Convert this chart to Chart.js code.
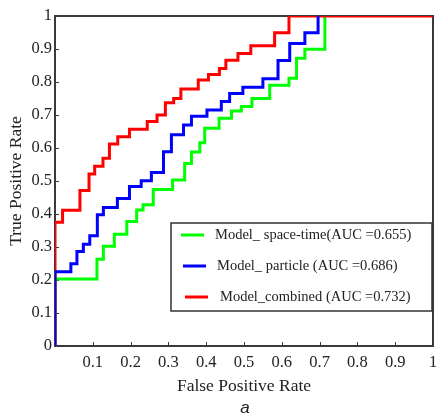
<!DOCTYPE html>
<html><head><meta charset="utf-8">
<script src="https://cdn.jsdelivr.net/npm/chart.js@4/dist/chart.umd.min.js"></script>
<style>html,body{margin:0;padding:0;background:#fff;}#wrap{position:relative;width:438px;height:417px;}</style>
</head><body><div id="wrap"><canvas id="c" width="438" height="417"></canvas></div>
<script>
// ---- data ----
const seriesLabels = ["Model_ space-time(AUC =0.655)", "Model_ particle (AUC =0.686)", "Model_combined (AUC =0.732)"];
const seriesColors = ["#00ff00", "#0000ff", "#ff0000"];

const greenFPR = [0, 0, 0.111, 0.128, 0.157, 0.190, 0.216, 0.233, 0.260, 0.311, 0.343, 0.361, 0.383, 0.396, 0.434, 0.467, 0.493, 0.521, 0.568, 0.619, 0.639, 0.661, 0.714];
const greenTPR = [0, 0.203, 0.263, 0.302, 0.339, 0.377, 0.412, 0.428, 0.474, 0.503, 0.553, 0.588, 0.616, 0.660, 0.690, 0.712, 0.726, 0.750, 0.790, 0.811, 0.872, 0.899, 1.0];

const blueFPR = [0, 0, 0.042, 0.058, 0.075, 0.092, 0.112, 0.128, 0.165, 0.197, 0.228, 0.255, 0.287, 0.308, 0.340, 0.361, 0.402, 0.440, 0.462, 0.497, 0.550, 0.590, 0.621, 0.661, 0.696];
const blueTPR = [0, 0.225, 0.249, 0.286, 0.308, 0.334, 0.398, 0.420, 0.447, 0.483, 0.501, 0.526, 0.589, 0.640, 0.670, 0.696, 0.715, 0.741, 0.765, 0.784, 0.810, 0.865, 0.917, 0.949, 1.0];

const redFPR = [0, 0, 0.020, 0.066, 0.090, 0.105, 0.127, 0.144, 0.166, 0.197, 0.244, 0.270, 0.292, 0.314, 0.333, 0.379, 0.406, 0.435, 0.452, 0.484, 0.518, 0.581, 0.619, 1.0];
const redTPR = [0, 0.375, 0.411, 0.471, 0.521, 0.545, 0.569, 0.612, 0.634, 0.657, 0.680, 0.700, 0.737, 0.750, 0.779, 0.806, 0.823, 0.841, 0.866, 0.886, 0.910, 0.949, 1.0, 1.0];

const xTickValues = [0.1, 0.2, 0.3, 0.4, 0.5, 0.6, 0.7, 0.8, 0.9, 1];
const xTickLabels = ["0.1", "0.2", "0.3", "0.4", "0.5", "0.6", "0.7", "0.8", "0.9", "1"];
const yTickValues = [0, 0.1, 0.2, 0.3, 0.4, 0.5, 0.6, 0.7, 0.8, 0.9, 1];
const yTickLabels = ["0", "0.1", "0.2", "0.3", "0.4", "0.5", "0.6", "0.7", "0.8", "0.9", "1"];
const xTitle = "False Positive Rate";
const yTitle = "True Positive Rate";
const panelLabel = "a";

// ---- chart ----
const SERIF = "'Liberation Serif', 'Times New Roman', serif";
const AXIS = "#3a3a3a";
function pts(xs, ys) { return xs.map((x, i) => ({ x: x, y: ys[i] })); }
function labelFor(values, labels, v) {
  for (let i = 0; i < values.length; i++) if (Math.abs(values[i] - v) < 1e-6) return labels[i];
  return "";
}

const frameAndDecor = {
  id: "frameAndDecor",
  beforeDatasetsDraw(chart) {
    const { ctx, chartArea: a, scales } = chart;
    ctx.save();
    ctx.strokeStyle = AXIS;
    ctx.lineWidth = 1;
    xTickValues.forEach(v => {
      if (v >= 1) return;
      const px = Math.round(scales.x.getPixelForValue(v)) + 0.5;
      ctx.beginPath(); ctx.moveTo(px, a.bottom); ctx.lineTo(px, a.bottom - 4); ctx.stroke();
    });
    yTickValues.forEach(v => {
      if (v <= 0 || v >= 1) return;
      const py = Math.round(scales.y.getPixelForValue(v)) + 0.5;
      ctx.beginPath(); ctx.moveTo(a.left, py); ctx.lineTo(a.left + 4, py); ctx.stroke();
    });
    ctx.lineWidth = 2;
    ctx.strokeRect(a.left, a.top, a.right - a.left, a.bottom - a.top);
    ctx.restore();
  },
  afterDraw(chart) {
    const { ctx, chartArea: a } = chart;
    ctx.save();
    // legend box inside the plot
    const bx = a.left + 116, by = a.top + 207, bw = a.right - 1 - bx, bh = 88;
    ctx.fillStyle = "#fff";
    ctx.fillRect(bx, by, bw, bh);
    ctx.strokeStyle = "#333";
    ctx.lineWidth = 1.5;
    ctx.strokeRect(bx, by, bw, bh);
    const rowY = [12, 43, 74];
    chart.data.datasets.forEach((ds, i) => {
      const y = by + rowY[i];
      const dx = i * 2;
      ctx.strokeStyle = ds.borderColor;
      ctx.lineWidth = 3;
      ctx.beginPath(); ctx.moveTo(bx + 10 + dx, y); ctx.lineTo(bx + 33 + dx, y); ctx.stroke();
      ctx.fillStyle = "#222";
      ctx.font = "14.5px " + SERIF;
      ctx.textAlign = "left";
      ctx.textBaseline = "middle";
      ctx.fillText(ds.label, bx + 44 + dx + (i === 2 ? 1 : 0), y);
    });
    // panel label
    ctx.fillStyle = "#222";
    ctx.font = "italic 17px 'Liberation Sans', Arial, sans-serif";
    ctx.textAlign = "center";
    ctx.textBaseline = "middle";
    ctx.fillText(panelLabel, 245, 408);
    ctx.restore();
  }
};

new Chart(document.getElementById("c"), {
  type: "scatter",
  data: {
    datasets: [
      { label: seriesLabels[0], data: pts(greenFPR, greenTPR), borderColor: seriesColors[0], order: 2 },
      { label: seriesLabels[1], data: pts(blueFPR, blueTPR), borderColor: seriesColors[1], order: 0 },
      { label: seriesLabels[2], data: pts(redFPR, redTPR), borderColor: seriesColors[2], order: 1 }
    ].map(d => Object.assign(d, { showLine: true, stepped: true, pointRadius: 0, borderWidth: 3, fill: false, backgroundColor: d.borderColor }))
  },
  options: {
    responsive: false,
    animation: false,
    devicePixelRatio: 1,
    layout: { padding: { left: 0, top: 16, right: 5, bottom: 0 } },
    plugins: { legend: { display: false }, tooltip: { enabled: false } },
    scales: {
      x: {
        type: "linear", min: 0, max: 1,
        afterFit(s) { s.height = 71; s.paddingLeft = 0; s.paddingRight = 0; },
        afterBuildTicks(s) { s.ticks = [0].concat(xTickValues).map(v => ({ value: v })); },
        ticks: {
          callback: v => labelFor(xTickValues, xTickLabels, v),
          font: { family: SERIF, size: 16.5 }, color: "#222", padding: 7, maxRotation: 0, autoSkip: false
        },
        grid: { drawOnChartArea: false, drawTicks: false },
        border: { display: true, color: AXIS, width: 2 },
        title: { display: true, text: xTitle, font: { family: SERIF, size: 17.5 }, color: "#222", padding: { top: 0, bottom: 20 } }
      },
      y: {
        type: "linear", min: 0, max: 1,
        afterFit(s) { s.width = 55; s.paddingTop = 0; s.paddingBottom = 0; },
        afterBuildTicks(s) { s.ticks = yTickValues.map(v => ({ value: v })); },
        ticks: {
          callback: v => labelFor(yTickValues, yTickLabels, v),
          font: { family: SERIF, size: 16.5 }, color: "#222", padding: 3, autoSkip: false
        },
        grid: { drawOnChartArea: false, drawTicks: false },
        border: { display: true, color: AXIS, width: 2 },
        title: { display: true, text: yTitle, font: { family: SERIF, size: 17.5 }, color: "#222", padding: { top: 6, bottom: 0 } }
      }
    }
  },
  plugins: [frameAndDecor]
});
</script>
</body></html>
